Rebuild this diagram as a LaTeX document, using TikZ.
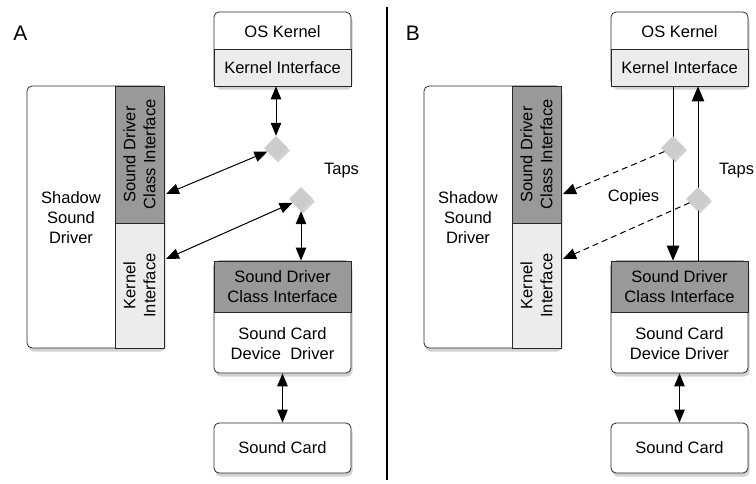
\documentclass[tikz,border=0pt]{standalone}
\usepackage{fontspec}
\setmainfont{Liberation Sans}
\usetikzlibrary{arrows.meta,shapes.geometric,shadows,calc}
\definecolor{darkfill}{RGB}{153,153,153}
\definecolor{lightfill}{RGB}{236,236,236}
\definecolor{tapfill}{RGB}{204,204,204}
\definecolor{edge}{RGB}{40,40,40}
\newcommand\stackparts[2]{%
 \node[box, minimum width=137pt, minimum height=74pt] (okb#1) at (282.5,49) {};
 \node[txt] (ok#1) at (282.5,31.5) {OS Kernel};
 \node[part, fill=lightfill, minimum width=137pt, minimum height=37pt] (ki#1) at (282.5,67.5) {Kernel Interface};
 \node[box, minimum width=137pt, minimum height=262pt] (sh#1) at (95.5,217) {};
 \node[txt] (sht#1) at (71,217.5) {Shadow\\Sound\\Driver};
 \node[part, fill=darkfill, minimum width=49pt, minimum height=137pt] (sc#1) at (139.5,154.5) {};
 \node[part, fill=lightfill, minimum width=49pt, minimum height=125pt] (kk#1) at (139.5,285.5) {};
 \node[txt, rotate=90] (sct#1) at (sc#1) {Sound Driver\\Class Interface};
 \node[txt, rotate=90] (kkt#1) at (kk#1) {Kernel\\Interface};
 \node[box, minimum width=137pt, minimum height=112pt] (sdb#1) at (282.5,317) {};
 \node[part, fill=darkfill, minimum width=137pt, minimum height=51pt] (sd#1) at (282.5,286.5) {Sound Driver\\Class Interface};
 \node[txt] (dd#1) at (282.5,344) {Sound Card\\Device#2Driver};
 \node[box, minimum width=137pt, minimum height=50pt] (card#1) at (282.5,448) {Sound Card};
}
\begin{document}
\begin{tikzpicture}[x=1pt,y=-1pt,
 every node/.style={font=\fontsize{16.5}{20}\selectfont},
 box/.style={draw=edge, line width=0.8pt, fill=white, rounded corners=5pt, inner sep=0pt, align=center,
   drop shadow={opacity=0.35, shadow xshift=1.5pt, shadow yshift=-3.5pt}},
 part/.style={draw=edge, line width=0.8pt, inner sep=0pt, align=center},
 txt/.style={align=center, inner sep=0pt},
 tap/.style={diamond, fill=tapfill, minimum size=24pt, inner sep=0pt,
   drop shadow={opacity=0.35, shadow xshift=2pt, shadow yshift=-2.5pt}},
 dbl/.style={line width=1pt, {Triangle[length=13pt,width=10.5pt]}-{Triangle[length=13pt,width=10.5pt]}},
 big/.style={line width=1pt, -{Triangle[length=15pt,width=12.5pt]}},
 copy/.style={line width=1pt, dash pattern=on 6pt off 4pt, -{Triangle[length=13pt,width=11pt]}},
 lbl/.style={font=\fontsize{21}{24}\selectfont, inner sep=0pt}
]
\useasboundingbox (0,0) rectangle (756,483);
\fill[white] (0,0) rectangle (756,483);

% separator
\coordinate (sepT) at (387,7);
\coordinate (sepB) at (387,480);
\draw[line width=1.8pt] (sepT) -- (sepB);

% panel labels
\node[lbl] (labA) at (20.5,33) {A};
\node[lbl] (labB) at (413,33) {B};

% ---------- Panel A ----------
\stackparts{A}{\ \ }
\node[tap] (dA1) at (276,148) {};
\node[tap] (dA2) at (301,199) {};
\coordinate (eA1) at (166,194);
\coordinate (eA2) at (166,259);
\draw[dbl] (kiA.south -| dA1) -- (dA1.north);
\draw[dbl] (eA1) -- (dA1);
\draw[dbl] (eA2) -- (dA2);
\draw[dbl] (dA2.south) -- (sdA.north -| dA2);
\draw[dbl] (sdbA.south) -- (cardA.north);
\node[txt] (tapsA) at (341.5,171) {Taps};

% ---------- Panel B ----------
\begin{scope}[xshift=397pt]
\stackparts{B}{ }
\end{scope}
\coordinate (pB1) at (673,148);
\coordinate (pB2) at (698,199);
\draw[big] (kiB.south -| pB1) -- (sdB.north -| pB1);
\draw[big] (sdB.north -| pB2) -- (kiB.south -| pB2);
\node[tap] (dB1) at (pB1) {};
\node[tap] (dB2) at (pB2) {};
\coordinate (eB1) at (563,194);
\coordinate (eB2) at (563,259);
\draw[copy] (dB1) -- (eB1);
\draw[copy] (dB2) -- (eB2);
\draw[dbl] (sdbB.south) -- (cardB.north);
\node[txt] (copies) at (633.5,197) {Copies};
\node[txt, anchor=west] (tapsB) at (719,171) {Taps};
\end{tikzpicture}
\end{document}
